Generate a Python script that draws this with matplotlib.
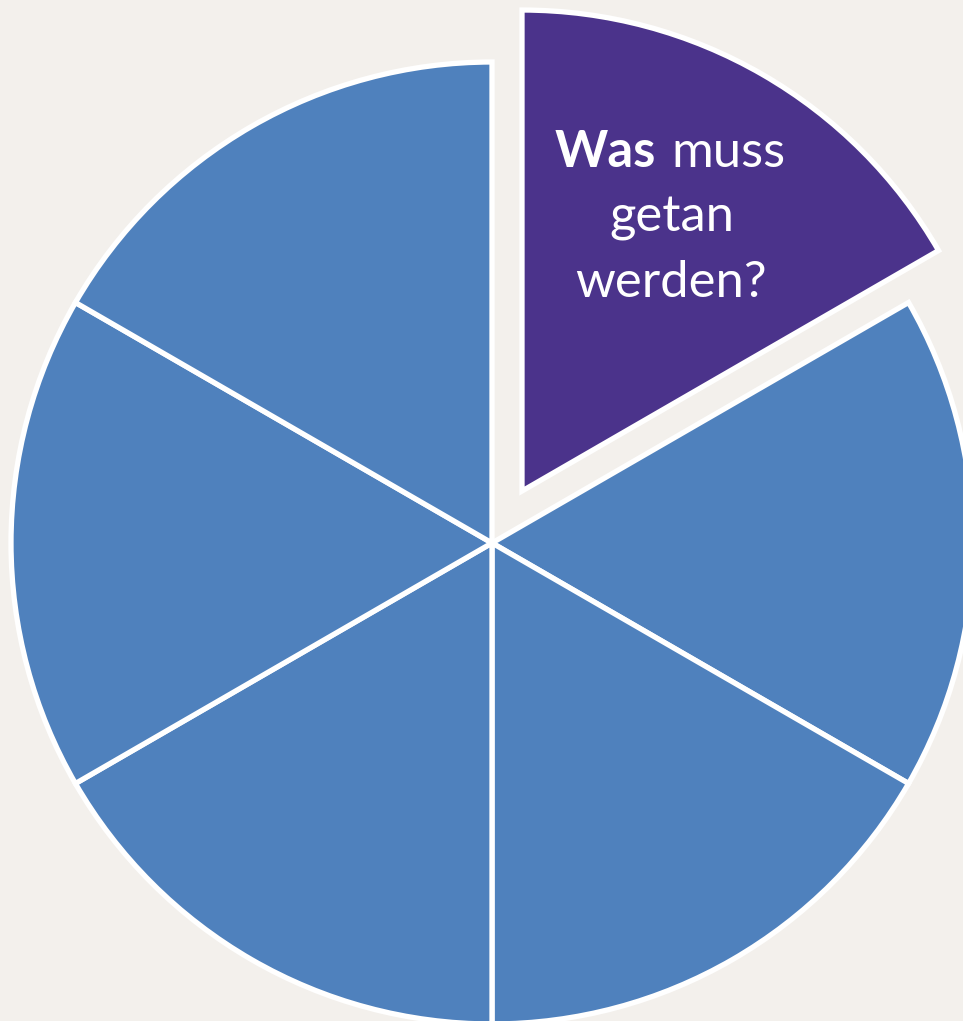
import matplotlib.pyplot as plt

# six equal segments, the first one (top right) pulled out
sizes = [1, 1, 1, 1, 1, 1]
explode = [60, 0, 0, 0, 0, 0]
colors = ['#4B338B'] + ['#4F81BD'] * 5
line1_bold = 'Was'
line1_rest = 'muss'
lines = ['getan', 'werden?']

W, H = 963, 1021
fig = plt.figure(figsize=(W / 100, H / 100), dpi=100)
fig.patch.set_facecolor('#F3F0EC')
ax = fig.add_axes([0, 0, 1, 1])

cx, cy = 492, H - 543
ax.pie(sizes, explode=explode, colors=colors, startangle=90, counterclock=False,
       radius=481, center=(cx, cy), frame=True,
       wedgeprops=dict(edgecolor='white', linewidth=3.8))
ax.set_xlim(0, W)
ax.set_ylim(0, H)
ax.axis('off')

fnt = 'Lato'
fs = 36.5
ax.text(656, H - 167, line1_bold, color='white', fontsize=fs, fontweight='bold',
        family=fnt, ha='right', va='baseline')
ax.text(671, H - 167, line1_rest, color='white', fontsize=fs,
        family=fnt, ha='left', va='baseline')
ax.text(672, H - 232, lines[0], color='white', fontsize=fs,
        family=fnt, ha='center', va='baseline')
ax.text(671, H - 297, lines[1], color='white', fontsize=fs,
        family=fnt, ha='center', va='baseline')

plt.savefig('out.png', dpi=100, facecolor=fig.get_facecolor())
